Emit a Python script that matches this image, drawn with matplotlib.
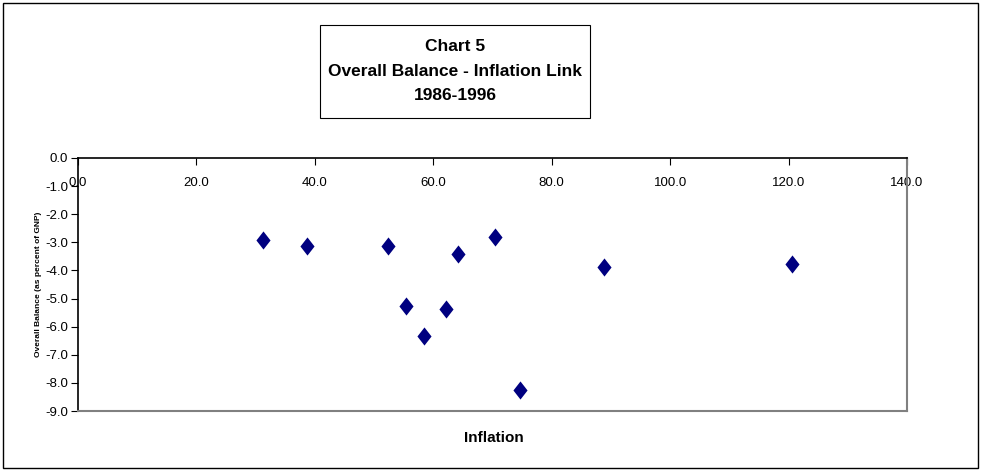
import matplotlib
matplotlib.use("Agg")
import matplotlib.pyplot as plt
from matplotlib.path import Path
from matplotlib.patches import Rectangle

plt.rcParams['font.family'] = ['Liberation Sans', 'DejaVu Sans']

# values
inflation = [31.2, 38.6, 52.4, 55.4, 58.4, 62.2, 64.1, 70.5, 74.7, 88.9, 120.6]
balance = [-2.92, -3.13, -3.12, -5.27, -6.32, -5.38, -3.42, -2.82, -8.25, -3.87, -3.78]
x_ticks = [0, 20, 40, 60, 80, 100, 120, 140]
y_ticks = [0, -1, -2, -3, -4, -5, -6, -7, -8, -9]

# Excel style diamond, a bit taller than wide
diamond = Path([(0, 1), (0.78, 0), (0, -1), (-0.78, 0), (0, 1)],
               [Path.MOVETO, Path.LINETO, Path.LINETO, Path.LINETO, Path.CLOSEPOLY])

fig = plt.figure(figsize=(9.81, 4.73), dpi=100)
# outer chart border
fig.patches.append(Rectangle((3 / 981, 5 / 473), 975 / 981, 465 / 473,
                             transform=fig.transFigure, fill=False,
                             edgecolor='black', linewidth=1.0))
# title box
fig.patches.append(Rectangle((320 / 981, 1 - 118 / 473), 270 / 981, 93 / 473,
                             transform=fig.transFigure, facecolor='white',
                             edgecolor='black', linewidth=0.8))

ax = fig.add_axes([78 / 981, 1 - 411 / 473, 829 / 981, 253 / 473])
ax.scatter(inflation, balance, marker=diamond, s=170, color='#000080',
           linewidths=0, zorder=3)

ax.set_xlim(0, 140)
ax.set_ylim(-9, 0)
ax.set_xticks(x_ticks)
ax.set_xticklabels(['%.1f' % v for v in x_ticks])
ax.set_yticks(y_ticks)
ax.set_yticklabels(['%.1f' % v for v in y_ticks])

ax.tick_params(axis='x', top=True, bottom=False, labeltop=True, labelbottom=False,
               direction='in', length=5, width=0.8, pad=-14, labelsize=9.5)
ax.tick_params(axis='y', direction='out', length=5, width=0.8, pad=2, labelsize=9.5)
for lab in ax.get_xticklabels():
    lab.set_verticalalignment('top')

ax.spines['top'].set_color('black')
ax.spines['left'].set_color('black')
ax.spines['top'].set_linewidth(1.2)
ax.spines['left'].set_linewidth(1.2)
ax.spines['right'].set_color('#808080')
ax.spines['bottom'].set_color('#808080')
ax.spines['right'].set_linewidth(1.5)
ax.spines['bottom'].set_linewidth(1.5)

ax.set_ylabel('Overall Balance (as percent of GNP)', fontsize=6, fontweight='bold')
ax.yaxis.set_label_coords(-0.043, 0.5)
fig.text(494 / 981, 1 - 438 / 473, 'Inflation', fontsize=11, fontweight='bold',
         ha='center', va='center')

fig.text(455 / 981, 1 - 71 / 473, 'Chart 5\nOverall Balance - Inflation Link\n1986-1996',
         fontsize=12.5, fontweight='bold', ha='center', va='center', linespacing=1.8)

fig.savefig('out.png', dpi=100)
